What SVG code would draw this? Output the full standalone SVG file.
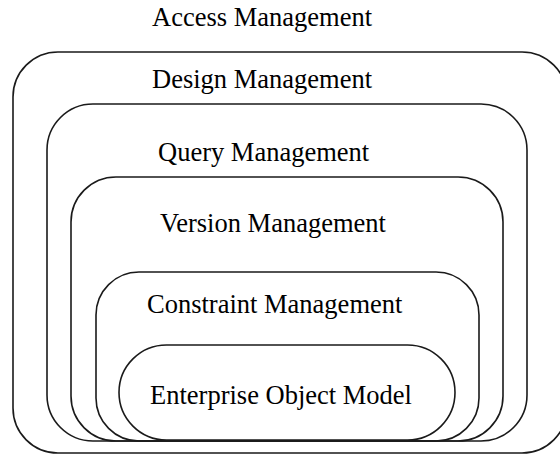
<svg xmlns="http://www.w3.org/2000/svg" width="560" height="455" viewBox="0 0 560 455">
  <style>
    .layer { fill: none; stroke: #1a1a1a; stroke-width: 1.6; }
    .label { font-family: "Liberation Serif", "Times New Roman", serif; font-size: 26.5px; fill: #000; }
  </style>
  <rect width="560" height="455" fill="#fff"/>

  <!-- Nested management layers, outermost first -->
  <g id="access-management">
    <text class="label" x="152" y="26">Access Management</text>
    <rect class="layer" x="13" y="52" width="554" height="401" rx="45" ry="45"/>
  </g>
  <g id="design-management">
    <text class="label" x="152" y="88">Design Management</text>
    <rect class="layer" x="47" y="104" width="480" height="337" rx="46" ry="46"/>
  </g>
  <g id="query-management">
    <text class="label" x="158" y="160.5">Query Management</text>
    <rect class="layer" x="71" y="177" width="432" height="264" rx="45" ry="45"/>
  </g>
  <g id="version-management">
    <text class="label" x="160" y="232">Version Management</text>
    <rect class="layer" x="96" y="272" width="383" height="169" rx="43" ry="43"/>
  </g>
  <g id="constraint-management">
    <text class="label" x="147" y="313">Constraint Management</text>
  </g>
  <g id="enterprise-object-model">
    <rect class="layer" x="119" y="345" width="336" height="95" rx="47.5" ry="47.5"/>
    <text class="label" x="150" y="404">Enterprise Object Model</text>
  </g>
  <g id="connectors"/>
</svg>
